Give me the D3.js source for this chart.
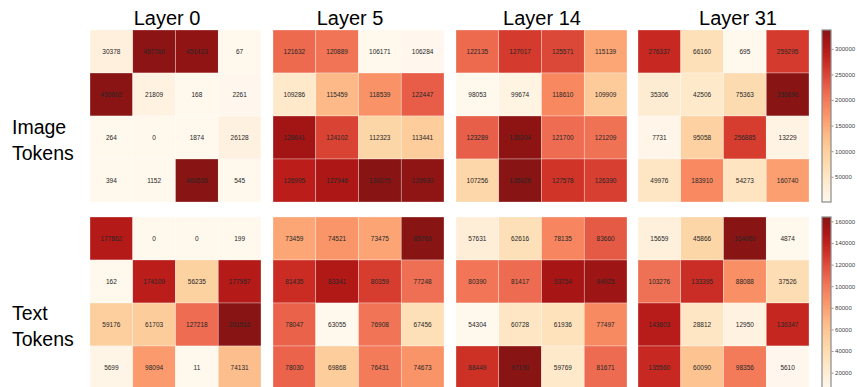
<!DOCTYPE html>
<meta charset="utf-8">
<head>
  <title>Layer heatmaps</title>
</head>

<style>
body { margin: 0; background: white; }
text {
  font-family: "Liberation Sans", Arial, Helvetica, sans-serif;
}
.cell-label { font-size: 6.5px; fill: #262626; }
.title { font-size: 20px; fill: black; }
.row-label { font-size: 19.5px; fill: black; }
.cbar text { font-size: 6px; fill: #444; }
</style>

<body>
  <svg width="857" height="387"></svg>

  <script src="https://cdnjs.cloudflare.com/ajax/libs/d3/7.8.5/d3.min.js"></script>
  <script>
var layers = ["Layer 0", "Layer 5", "Layer 14", "Layer 31"];
var rowNames = [["Image", "Tokens"], ["Text", "Tokens"]];

var imageL0 = [[30378, 457760, 451423, 67], [459602, 21809, 168, 2261], [264, 0, 1874, 26128], [394, 1152, 460535, 545]];
var imageL5 = [[121632, 120889, 106171, 106284], [109286, 115459, 118539, 122447], [128641, 124102, 112323, 113441], [126995, 127946, 130275, 129930]];
var imageL14 = [[122135, 127017, 125571, 115139], [98053, 99674, 118610, 109909], [123289, 135204, 121700, 121209], [107256, 135626, 127578, 126390]];
var imageL31 = [[276337, 66160, 695, 259295], [35306, 42506, 75363, 336896], [7731, 95058, 256885, 13229], [49976, 183910, 54273, 160740]];

var textL0 = [[177862, 0, 0, 199], [162, 174109, 56235, 177957], [59176, 61703, 127218, 201516], [5699, 98094, 11, 74131]];
var textL5 = [[73459, 74521, 73475, 85766], [81435, 83341, 80359, 77248], [78047, 63055, 76908, 67456], [78030, 69868, 76431, 74673]];
var textL14 = [[57631, 62616, 78135, 83660], [80390, 81417, 93754, 94925], [54304, 60728, 61936, 77497], [88449, 97190, 59769, 81671]];
var textL31 = [[15659, 45866, 164060, 4874], [103276, 133395, 88088, 37526], [143603, 28812, 12950, 136347], [135560, 60090, 98356, 5610]];

var cbarTicks = [[50000, 100000, 150000, 200000, 250000, 300000], [20000, 40000, 60000, 80000, 100000, 120000, 140000, 160000]];

var grids = [[imageL0, imageL5, imageL14, imageL31], [textL0, textL5, textL14, textL31]];

var panelX = [90, 273, 456, 638];
var titleX = [167, 350, 542, 738];
var panelY = [30, 217];
var panelW = 171, panelH = 172;

var svg = d3.select("svg");
var cellOpacity = 0.92;

// column titles
svg.selectAll(".title")
  .data(layers)
  .enter()
  .append("text")
  .attr("class", "title")
  .attr("x", function(d, i) { return titleX[i]; })
  .attr("y", 25)
  .attr("text-anchor", "middle")
  .text(function(d) { return d; });

// row labels
rowNames.forEach(function(lines, r) {
  var t = svg.append("text")
    .attr("class", "row-label")
    .attr("x", 12)
    .attr("y", [134, 320][r]);
  lines.forEach(function(line, k) {
    t.append("tspan").attr("x", 12).attr("dy", k ? 26 : 0).text(line);
  });
});

var defs = svg.append("defs");

grids.forEach(function(row, r) {
  row.forEach(function(grid, c) {
    var flat = d3.merge(grid.map(function(vals, i) {
      return vals.map(function(v, j) { return {row: i, col: j, value: v}; });
    }));
    var color = d3.scaleSequential(d3.interpolateOrRd)
      .domain(d3.extent(flat, function(d) { return d.value; }));

    var x = d3.scaleBand().domain(d3.range(4)).range([0, panelW]);
    var y = d3.scaleBand().domain(d3.range(4)).range([0, panelH]);

    var g = svg.append("g")
      .attr("transform", "translate(" + [panelX[c], panelY[r]] + ")");

    var cells = g.selectAll("g")
      .data(flat)
      .enter()
      .append("g")
      .attr("transform", function(d) { return "translate(" + [x(d.col), y(d.row)] + ")"; });

    cells.append("rect")
      .attr("width", x.bandwidth())
      .attr("height", y.bandwidth())
      .attr("fill", function(d) { return color(d.value); })
      .attr("fill-opacity", cellOpacity)
      .attr("stroke", "white")
      .attr("stroke-opacity", 0.5)
      .attr("stroke-width", 0.6);

    cells.append("text")
      .attr("class", "cell-label")
      .attr("x", x.bandwidth() / 2)
      .attr("y", y.bandwidth() / 2)
      .attr("dy", "0.35em")
      .attr("text-anchor", "middle")
      .text(function(d) { return d.value; });

    // colorbar for the last panel of each row
    if (c === 3) {
      var gradId = "grad" + r;
      var grad = defs.append("linearGradient")
        .attr("id", gradId)
        .attr("x1", 0).attr("y1", 1).attr("x2", 0).attr("y2", 0);
      d3.range(0, 1.0001, 0.05).forEach(function(t) {
        grad.append("stop")
          .attr("offset", t)
          .attr("stop-color", d3.interpolateOrRd(t))
          .attr("stop-opacity", cellOpacity);
      });

      var cbX = 822, cbW = 9;
      var cbScale = d3.scaleLinear().domain(color.domain()).range([panelH, 0]);
      var cb = svg.append("g")
        .attr("class", "cbar")
        .attr("transform", "translate(" + [cbX, panelY[r]] + ")");
      cb.append("rect")
        .attr("width", cbW)
        .attr("height", panelH)
        .attr("fill", "url(#" + gradId + ")")
        .attr("stroke", "#8a8a8a")
        .attr("stroke-width", 1.2);
      var axis = cb.append("g")
        .attr("transform", "translate(" + (cbW + 0.6) + ",0)")
        .call(d3.axisRight(cbScale).tickValues(cbarTicks[r]).tickSize(2).tickPadding(1.5).tickFormat(d3.format("d")));
      axis.select(".domain").remove();
      axis.selectAll(".tick line").attr("stroke", "#555").attr("stroke-width", 0.6);
      axis.selectAll(".tick text").attr("fill", "#444").attr("font-size", 6);
    }
  });
});
  </script>
</body>
</html>
